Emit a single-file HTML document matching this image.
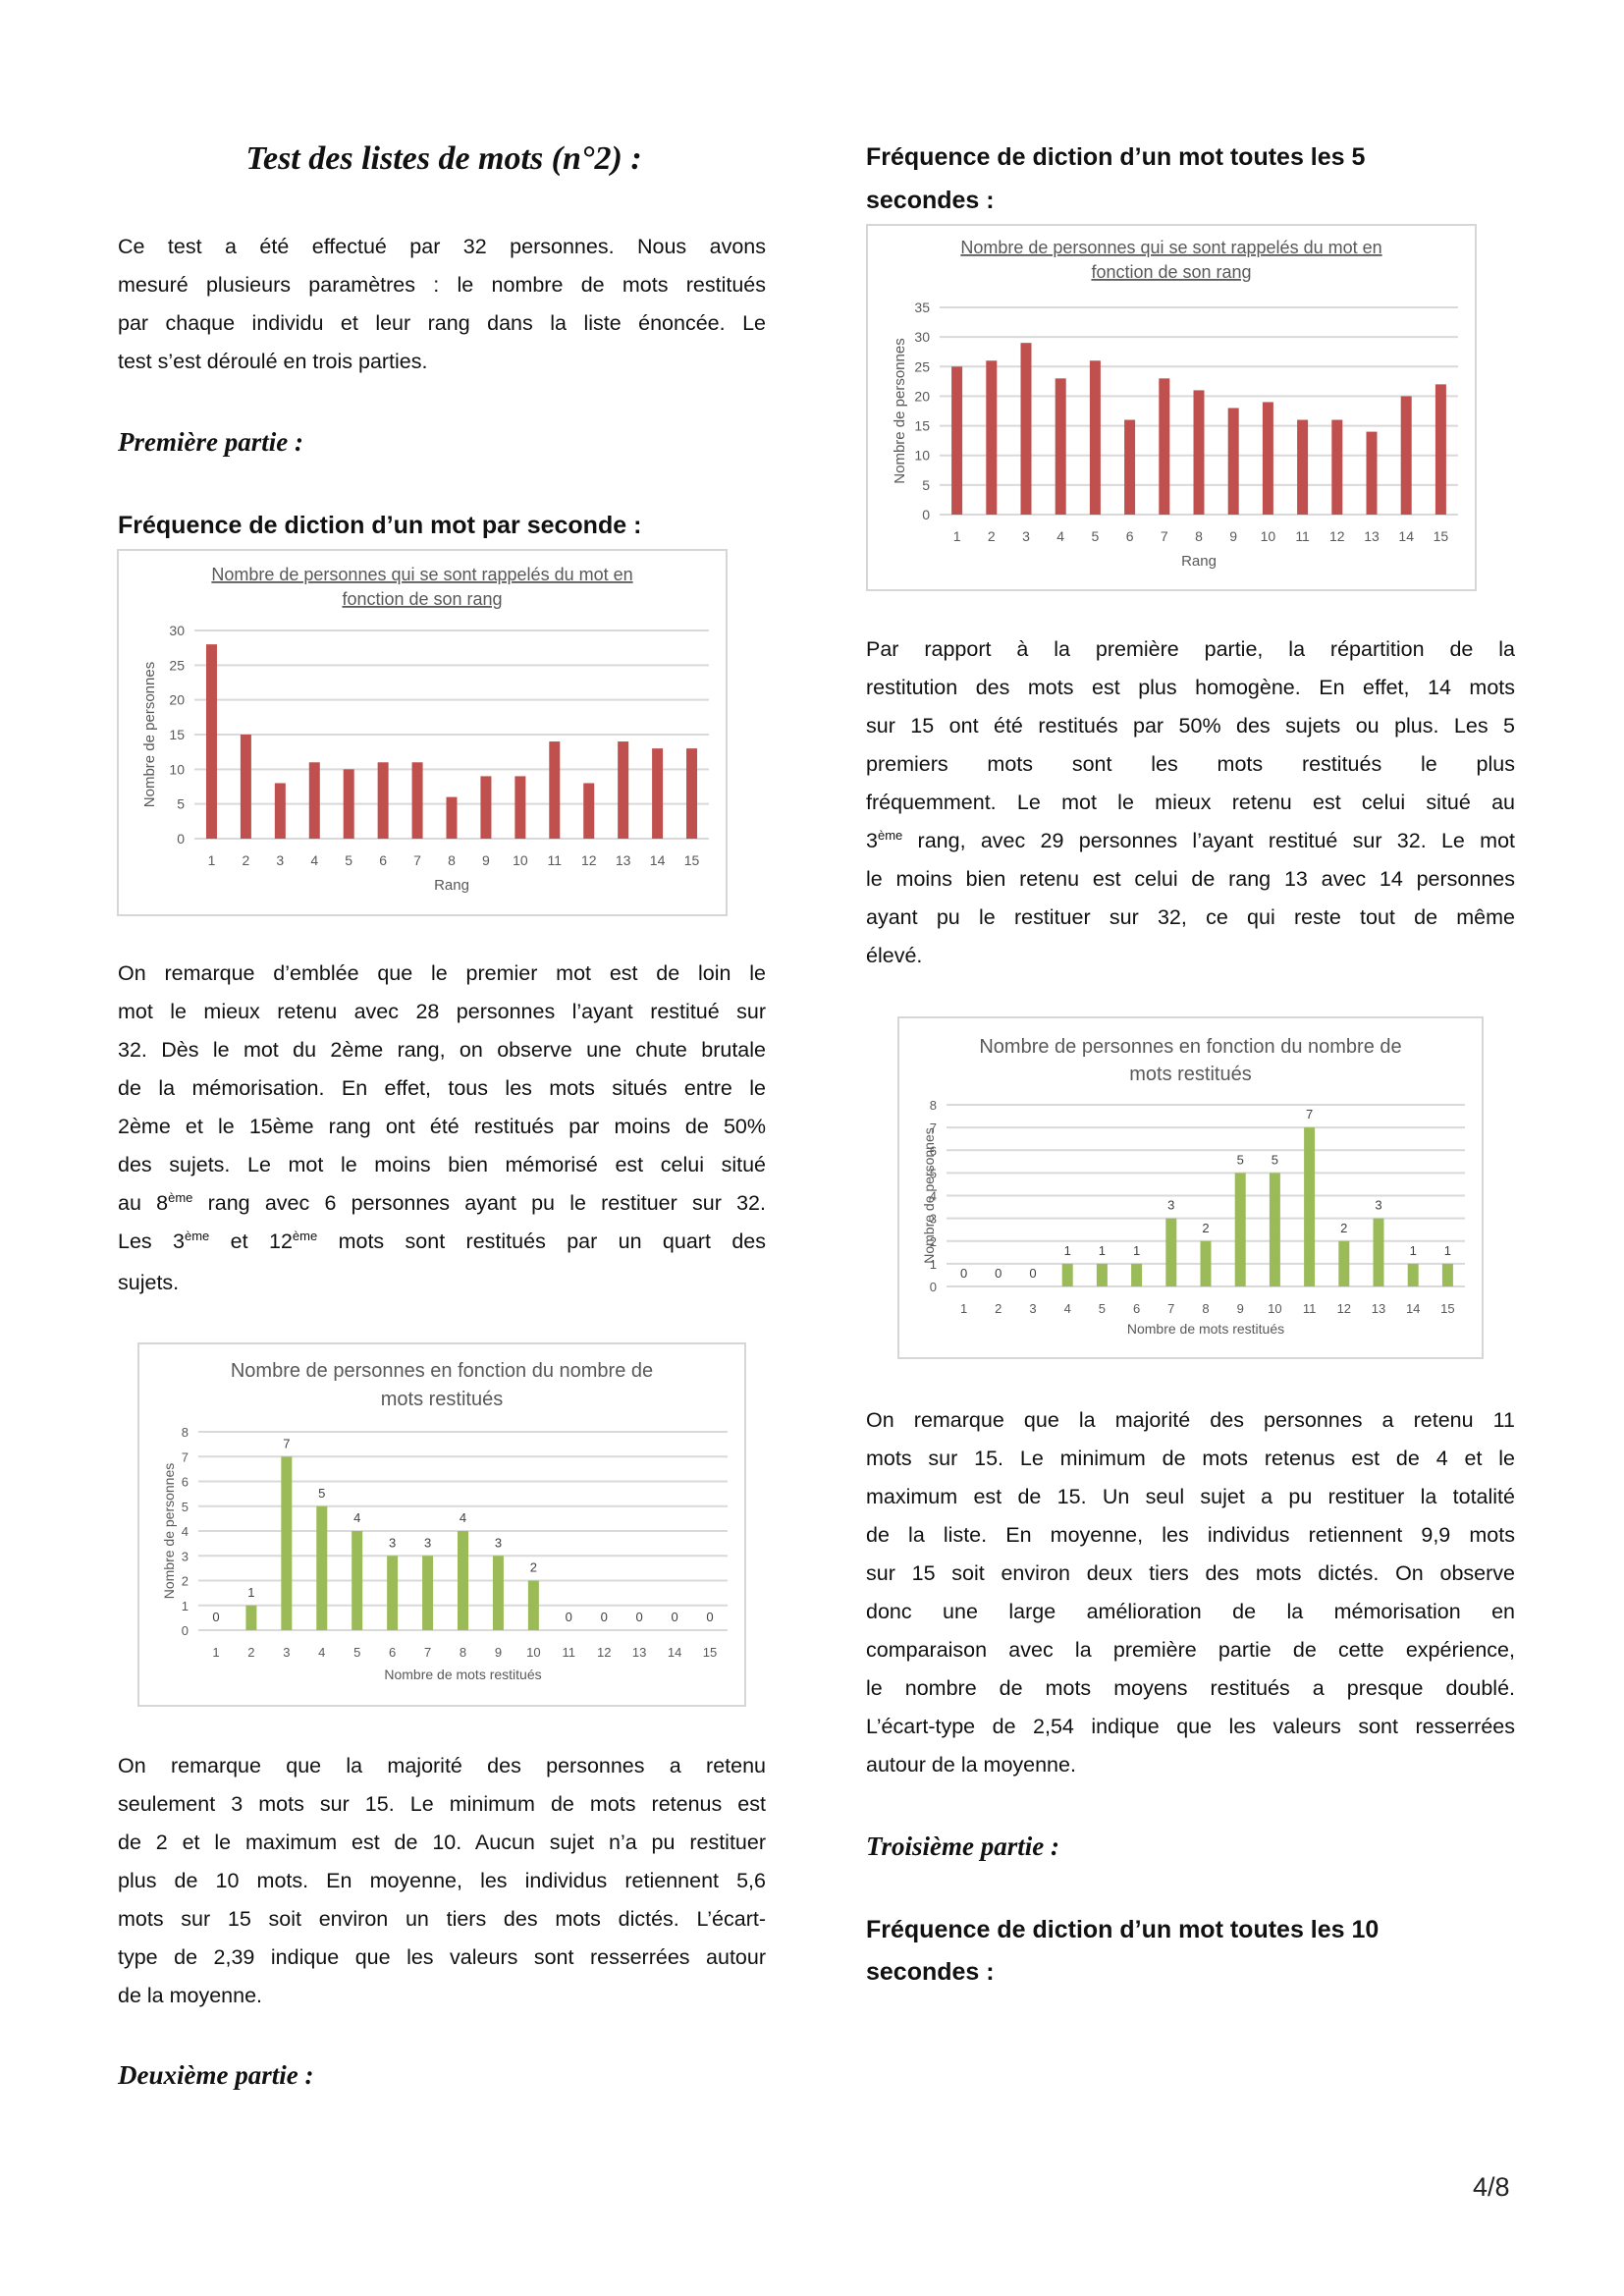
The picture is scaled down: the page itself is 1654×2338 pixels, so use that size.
<!DOCTYPE html>
<html><head><meta charset="utf-8">
<style>
html,body{margin:0;padding:0;background:#fff}
#page{position:relative;width:1654px;height:2338px;overflow:hidden;font-family:"Liberation Sans",sans-serif;color:#111}
.l{position:absolute;font-size:21.5px;line-height:39px;height:39px;white-space:nowrap;text-align:justify;text-align-last:justify}
.l.e{text-align-last:left}
.h{position:absolute;font-family:"Liberation Serif",serif;font-style:italic;font-weight:bold;font-size:27px;line-height:40px;white-space:nowrap}
.s{position:absolute;font-weight:bold;font-size:25px;line-height:40px;white-space:nowrap}
svg text{font-family:"Liberation Sans",sans-serif}
sup{font-size:13px;line-height:0}
</style></head><body>
<div id="page">
<div class="h" style="left:240px;top:142px;font-size:34px;width:420px;text-align:center;left:242px">Test des listes de mots (n°2) :</div>

<div>
<div class="l" style="left:120px;width:660px;top:232px">Ce test a été effectué par 32 personnes. Nous avons</div>
<div class="l" style="left:120px;width:660px;top:271px">mesuré plusieurs paramètres : le nombre de mots restitués</div>
<div class="l" style="left:120px;width:660px;top:310px">par chaque individu et leur rang dans la liste énoncée. Le</div>
<div class="l e" style="left:120px;width:660px;top:349px">test s’est déroulé en trois parties.</div>
</div>

<div class="h" style="left:120px;top:430px">Première partie :</div>
<div class="s" style="left:120px;top:515px">Fréquence de diction d’un mot par seconde :</div>

<svg id="c1" style="position:absolute;left:0;top:0" width="1654" height="2338"></svg>

<div>
<div class="l" style="left:120px;width:660px;top:972px">On remarque d’emblée que le premier mot est de loin le</div>
<div class="l" style="left:120px;width:660px;top:1011px">mot le mieux retenu avec 28 personnes l’ayant restitué sur</div>
<div class="l" style="left:120px;width:660px;top:1050px">32. Dès le mot du 2ème rang, on observe une chute brutale</div>
<div class="l" style="left:120px;width:660px;top:1089px">de la mémorisation. En effet, tous les mots situés entre le</div>
<div class="l" style="left:120px;width:660px;top:1128px">2ème et le 15ème rang ont été restitués par moins de 50%</div>
<div class="l" style="left:120px;width:660px;top:1167px">des sujets. Le mot le moins bien mémorisé est celui situé</div>
<div class="l" style="left:120px;width:660px;top:1206px">au 8<sup>ème</sup> rang avec 6 personnes ayant pu le restituer sur 32.</div>
<div class="l" style="left:120px;width:660px;top:1245px">Les 3<sup>ème</sup> et 12<sup>ème</sup> mots sont restitués par un quart des</div>
<div class="l e" style="left:120px;width:660px;top:1287px">sujets.</div>
</div>

<div>
<div class="l" style="left:120px;width:660px;top:1779px">On remarque que la majorité des personnes a retenu</div>
<div class="l" style="left:120px;width:660px;top:1818px">seulement 3 mots sur 15. Le minimum de mots retenus est</div>
<div class="l" style="left:120px;width:660px;top:1857px">de 2 et le maximum est de 10. Aucun sujet n’a pu restituer</div>
<div class="l" style="left:120px;width:660px;top:1896px">plus de 10 mots. En moyenne, les individus retiennent 5,6</div>
<div class="l" style="left:120px;width:660px;top:1935px">mots sur 15 soit environ un tiers des mots dictés. L’écart-</div>
<div class="l" style="left:120px;width:660px;top:1974px">type de 2,39 indique que les valeurs sont resserrées autour</div>
<div class="l e" style="left:120px;width:660px;top:2013px">de la moyenne.</div>
</div>

<div class="h" style="left:120px;top:2093px">Deuxième partie :</div>

<div class="s" style="left:882px;top:140px">Fréquence de diction d’un mot toutes les 5</div>
<div class="s" style="left:882px;top:184px">secondes :</div>

<div>
<div class="l" style="left:882px;width:661px;top:642px">Par rapport à la première partie, la répartition de la</div>
<div class="l" style="left:882px;width:661px;top:681px">restitution des mots est plus homogène. En effet, 14 mots</div>
<div class="l" style="left:882px;width:661px;top:720px">sur 15 ont été restitués par 50% des sujets ou plus. Les 5</div>
<div class="l" style="left:882px;width:661px;top:759px">premiers mots sont les mots restitués le plus</div>
<div class="l" style="left:882px;width:661px;top:798px">fréquemment. Le mot le mieux retenu est celui situé au</div>
<div class="l" style="left:882px;width:661px;top:837px">3<sup>ème</sup> rang, avec 29 personnes l’ayant restitué sur 32. Le mot</div>
<div class="l" style="left:882px;width:661px;top:876px">le moins bien retenu est celui de rang 13 avec 14 personnes</div>
<div class="l" style="left:882px;width:661px;top:915px">ayant pu le restituer sur 32, ce qui reste tout de même</div>
<div class="l e" style="left:882px;width:661px;top:954px">élevé.</div>
</div>

<div>
<div class="l" style="left:882px;width:661px;top:1427px">On remarque que la majorité des personnes a retenu 11</div>
<div class="l" style="left:882px;width:661px;top:1466px">mots sur 15. Le minimum de mots retenus est de 4 et le</div>
<div class="l" style="left:882px;width:661px;top:1505px">maximum est de 15. Un seul sujet a pu restituer la totalité</div>
<div class="l" style="left:882px;width:661px;top:1544px">de la liste. En moyenne, les individus retiennent 9,9 mots</div>
<div class="l" style="left:882px;width:661px;top:1583px">sur 15 soit environ deux tiers des mots dictés. On observe</div>
<div class="l" style="left:882px;width:661px;top:1622px">donc une large amélioration de la mémorisation en</div>
<div class="l" style="left:882px;width:661px;top:1661px">comparaison avec la première partie de cette expérience,</div>
<div class="l" style="left:882px;width:661px;top:1700px">le nombre de mots moyens restitués a presque doublé.</div>
<div class="l" style="left:882px;width:661px;top:1739px">L’écart-type de 2,54 indique que les valeurs sont resserrées</div>
<div class="l e" style="left:882px;width:661px;top:1778px">autour de la moyenne.</div>
</div>

<div class="h" style="left:882px;top:1860px">Troisième partie :</div>
<div class="s" style="left:882px;top:1945px">Fréquence de diction d’un mot toutes les 10</div>
<div class="s" style="left:882px;top:1988px">secondes :</div>

<div style="position:absolute;left:1500px;top:2212px;font-size:27px;color:#222">4/8</div>
</div>

<script>
// Chart 1: part 1, one word per second
const cats1 = [1,2,3,4,5,6,7,8,9,10,11,12,13,14,15];
const vals1 = [28,15,8,11,10,11,11,6,9,9,14,8,14,13,13];
const ticks1 = [0,5,10,15,20,25,30];
// Chart 2: part 2, one word every 5 seconds
const cats2 = [1,2,3,4,5,6,7,8,9,10,11,12,13,14,15];
const vals2 = [25,26,29,23,26,16,23,21,18,19,16,16,14,20,22];
const ticks2 = [0,5,10,15,20,25,30,35];
// Chart 3: part 1 distribution
const cats3 = [1,2,3,4,5,6,7,8,9,10,11,12,13,14,15];
const vals3 = [0,1,7,5,4,3,3,4,3,2,0,0,0,0,0];
const ticks3 = [0,1,2,3,4,5,6,7,8];
// Chart 4: part 2 distribution
const cats4 = [1,2,3,4,5,6,7,8,9,10,11,12,13,14,15];
const vals4 = [0,0,0,1,1,1,3,2,5,5,7,2,3,1,1];
const ticks4 = [0,1,2,3,4,5,6,7,8];

const NS = 'http://www.w3.org/2000/svg';
const svg = document.getElementById('c1');
function mk(tag, attrs, parent){
  const e = document.createElementNS(NS, tag);
  for (const k in attrs) e.setAttribute(k, attrs[k]);
  (parent||svg).appendChild(e);
  return e;
}
function chart(id, cfg, cats, vals, ticks){
  const g = mk('g', {});
  
  
  const box = mk('rect', {x:cfg.bx, y:cfg.by, width:cfg.bw, height:cfg.bh, fill:'#fff', stroke:'#d6d6d6', 'stroke-width':2}, g);
  
  
  cfg.title.forEach((t,i)=>{
    const tx = mk('text', {x:cfg.bx+cfg.bw/2+(cfg.tdx||0), y:cfg.ty+i*cfg.tls, 'text-anchor':'middle', 'font-size':cfg.tfs, fill:'#595959', 'text-decoration':cfg.ul?'underline':'none'}, g);
    tx.textContent = t;
    
    
  });
  const maxT = ticks[ticks.length-1];
  const y = v => cfg.y0 - (v/maxT)*(cfg.y0-cfg.yTop);
  const step = (cfg.gx1-cfg.gx0)/cats.length;
  const x = i => cfg.gx0 + step*(i+0.5);
  ticks.forEach(t=>{
    const ln = mk('line', {x1:cfg.gx0, x2:cfg.gx1, y1:y(t), y2:y(t), stroke:'#d9d9d9', 'stroke-width':2}, g);
    
    
    const tl = mk('text', {x:cfg.gx0-10, y:y(t)+5, 'text-anchor':'end', 'font-size':cfg.fs, fill:'#595959'}, g);
    tl.textContent = t;
    
    
  });
  vals.forEach((v,i)=>{
    const r = mk('rect', {x:x(i)-cfg.barW/2, y:y(v), width:cfg.barW, height:cfg.y0-y(v), fill:cfg.color}, g);
    
    
    const xl = mk('text', {x:x(i), y:cfg.y0+27, 'text-anchor':'middle', 'font-size':cfg.fs, fill:'#595959'}, g);
    xl.textContent = cats[i];
    
    
    if (cfg.labels){
      const vl = mk('text', {x:x(i), y:y(v)-9, 'text-anchor':'middle', 'font-size':cfg.fs, fill:'#404040'}, g);
      vl.textContent = v;
      
      
    }
  });
  const xt = mk('text', {x:(cfg.gx0+cfg.gx1)/2, y:cfg.xty, 'text-anchor':'middle', 'font-size':cfg.fs+1, fill:'#595959'}, g);
  xt.textContent = cfg.xtitle;
  
  
  const cy = (cfg.y0+cfg.yTop)/2;
  const yt = mk('text', {x:cfg.ytx, y:cy, 'text-anchor':'middle', 'font-size':cfg.fs+1, fill:'#595959', transform:'rotate(-90 '+cfg.ytx+' '+cy+')'}, g);
  yt.textContent = 'Nombre de personnes';
  
  
}
chart('chart-rank-part1', {bx:120,by:560,bw:620,bh:372,title:['Nombre de personnes qui se sont rappelés du mot en','fonction de son rang'],ty:591,tls:25,tfs:18,ul:true,gx0:198,gx1:722,yTop:642,y0:854,barW:11,color:'#c0504d',labels:false,xtitle:'Rang',xty:906,ytx:157,fs:14}, cats1, vals1, ticks1);
chart('chart-rank-part2', {bx:883,by:229,bw:620,bh:372,title:['Nombre de personnes qui se sont rappelés du mot en','fonction de son rang'],ty:258,tls:25,tfs:18,ul:true,gx0:957,gx1:1485,yTop:313,y0:524,barW:11,color:'#c0504d',labels:false,xtitle:'Rang',xty:576,ytx:921,fs:14}, cats2, vals2, ticks2);
chart('chart-count-part1', {bx:141,by:1368,bw:618,bh:369,title:['Nombre de personnes en fonction du  nombre de','mots restitués'],ty:1402,tls:29,tfs:20,ul:false,tdx:0,gx0:202,gx1:741,yTop:1458,y0:1660,barW:11,color:'#9bbb59',labels:true,xtitle:'Nombre de mots restitués',xty:1710,ytx:177,fs:13}, cats3, vals3, ticks3);
chart('chart-count-part2', {bx:915,by:1036,bw:595,bh:347,title:['Nombre de personnes en fonction du nombre de','mots restitués'],ty:1072,tls:28,tfs:20,ul:false,tdx:0,gx0:964,gx1:1492,yTop:1125,y0:1310,barW:11,color:'#9bbb59',labels:true,xtitle:'Nombre de mots restitués',xty:1358,ytx:951,fs:13}, cats4, vals4, ticks4);
</script>
</body></html>
